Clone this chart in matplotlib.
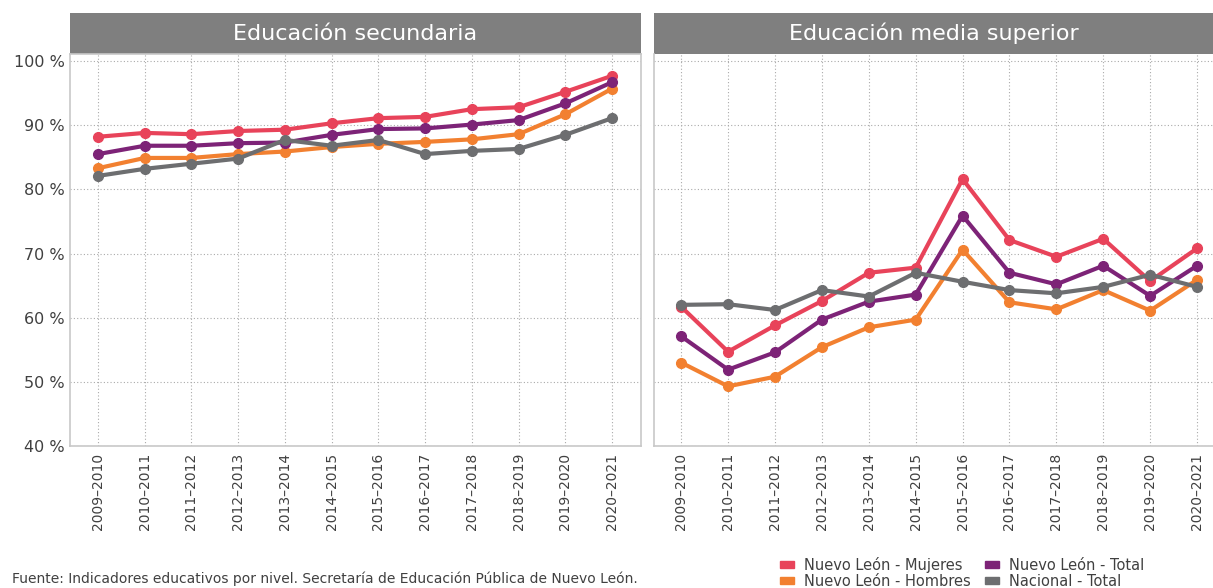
import matplotlib.pyplot as plt
from matplotlib.patches import Rectangle, Patch

plt.rcParams['font.family'] = ['DejaVu Sans']

# Data
ciclos = ['2009–2010', '2010–2011', '2011–2012', '2012–2013', '2013–2014', '2014–2015',
          '2015–2016', '2016–2017', '2017–2018', '2018–2019', '2019–2020', '2020–2021']

sec_mujeres = [88.2, 88.8, 88.6, 89.1, 89.3, 90.3, 91.1, 91.3, 92.5, 92.8, 95.2, 97.7]
sec_hombres = [83.3, 84.9, 84.9, 85.5, 85.9, 86.6, 87.1, 87.4, 87.8, 88.6, 91.7, 95.7]
sec_total = [85.5, 86.8, 86.8, 87.2, 87.3, 88.5, 89.4, 89.5, 90.1, 90.8, 93.4, 96.7]
sec_nacional = [82.1, 83.2, 84.0, 84.8, 87.7, 86.8, 87.7, 85.5, 86.0, 86.3, 88.5, 91.1]

ms_mujeres = [61.7, 54.7, 58.8, 62.6, 67.0, 67.8, 81.6, 72.1, 69.5, 72.3, 65.7, 70.8]
ms_hombres = [53.0, 49.3, 50.8, 55.4, 58.5, 59.7, 70.6, 62.4, 61.3, 64.3, 61.1, 65.9]
ms_total = [57.1, 51.9, 54.6, 59.7, 62.5, 63.6, 75.9, 67.0, 65.2, 68.1, 63.4, 68.1]
ms_nacional = [62.0, 62.1, 61.2, 64.3, 63.3, 67.0, 65.6, 64.3, 63.8, 64.8, 66.7, 64.8]

series_labels = ['Nuevo León - Mujeres', 'Nuevo León - Hombres',
                 'Nuevo León - Total', 'Nacional - Total']
colors = ['#E8435A', '#F28030', '#7D2377', '#6D6E70']

yticks = [40, 50, 60, 70, 80, 90, 100]
ytick_labels = ['40 %', '50 %', '60 %', '70 %', '80 %', '90 %', '100 %']

W, H = 1213, 588
fig = plt.figure(figsize=(W / 100, H / 100), dpi=100)

ax_bottom = (H - 446) / H
ax_height = (446 - 54) / H
ax1 = fig.add_axes([70 / W, ax_bottom, (641 - 70) / W, ax_height])
ax2 = fig.add_axes([654 / W, ax_bottom, (1213 - 654) / W, ax_height])

x = list(range(len(ciclos)))
text_color = '#404040'
spine_color = '#C8C8C8'


def draw_panel(ax, data, title, xlim, show_y):
    for vals, c in zip(data, colors):
        ax.plot(x, vals, color=c, lw=3, marker='o', ms=7, solid_capstyle='round')
    ax.set_ylim(40, 101.1)
    ax.set_xlim(*xlim)
    ax.set_yticks(yticks)
    ax.set_xticks(x)
    ax.set_xticklabels(ciclos, rotation=90, fontsize=10, color=text_color)
    if show_y:
        ax.set_yticklabels(ytick_labels, fontsize=11.5, color=text_color)
    else:
        ax.set_yticklabels([])
    ax.tick_params(axis='x', length=0, pad=5)
    ax.tick_params(axis='y', length=0, pad=4)
    ax.grid(True, color='#AAAAAA', ls=(0, (1, 2)), lw=0.8)
    ax.set_axisbelow(True)
    for s in ax.spines.values():
        s.set_color(spine_color)
        s.set_linewidth(1.2)
    # grey header band
    band = Rectangle((0, 1.0), 1, 41 / 392, transform=ax.transAxes,
                     facecolor='#7F7F7F', edgecolor='none', clip_on=False)
    ax.add_patch(band)
    ax.text(0.5, 1.0 + 20.5 / 392, title, transform=ax.transAxes, ha='center',
            va='center', color='white', fontsize=16)


draw_panel(ax1, [sec_mujeres, sec_hombres, sec_total, sec_nacional],
           'Educación secundaria', (-0.6, 11.62), True)
draw_panel(ax2, [ms_mujeres, ms_hombres, ms_total, ms_nacional],
           'Educación media superior', (-0.58, 11.34), False)
ax2.spines['right'].set_visible(False)
ax2.spines['top'].set_visible(False)

handles = [Patch(color=c) for c in colors]
fig.legend(handles, series_labels, ncol=2, loc='upper left',
           bbox_to_anchor=(780 / W, 1 - 557 / H), frameon=False, fontsize=10.5,
           labelcolor=text_color, handlelength=0.95, handleheight=0.4,
           handletextpad=0.7, columnspacing=1.0, labelspacing=0.05,
           borderpad=0, borderaxespad=0)

fig.text(12 / W, 1 - 579 / H,
         'Fuente: Indicadores educativos por nivel. Secretaría de Educación Pública de Nuevo León.',
         fontsize=10, color=text_color, va='center', ha='left')

fig.savefig('out.png', dpi=100)
